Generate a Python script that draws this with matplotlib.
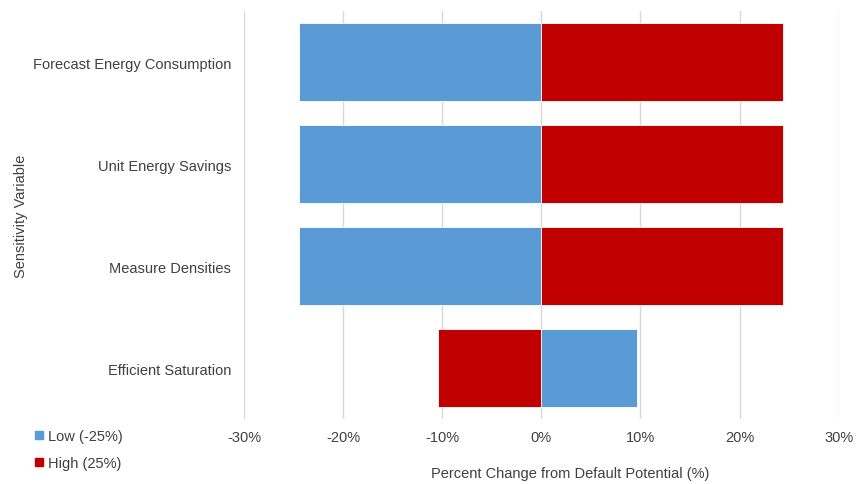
import numpy as np
import matplotlib
matplotlib.use("Agg")
import matplotlib.pyplot as plt
from matplotlib.lines import Line2D

plt.rcParams['font.family'] = ['Liberation Sans', 'DejaVu Sans']

# sensitivity variables, top to bottom
variables = ["Forecast Energy Consumption", "Unit Energy Savings",
             "Measure Densities", "Efficient Saturation"]
low_change = [-24.5, -24.5, -24.5, 9.6]     # Low (-25%)
high_change = [24.4, 24.4, 24.4, -10.4]     # High (25%)
xticks = [-30, -20, -10, 0, 10, 20, 30]

blue = "#5B9BD5"
red = "#C00000"
text_color = "#404040"

fig = plt.figure(figsize=(8.57, 4.85), dpi=100)
ax = fig.add_axes([0.2847, 0.134, 0.694, 0.841])

y = np.arange(len(variables))
ax.barh(y, low_change, height=0.76, color=blue, edgecolor="white", linewidth=0.6, zorder=2)
ax.barh(y, high_change, height=0.76, color=red, edgecolor="white", linewidth=0.6, zorder=2)

ax.set_xlim(-30, 30)
ax.set_ylim(3.5, -0.5)
ax.set_xticks(xticks)
ax.set_xticklabels([f"{v}%" for v in xticks])
ax.set_yticks(y)
ax.set_yticklabels(variables)
ax.tick_params(axis="both", length=0, labelsize=10.5, colors=text_color)
ax.tick_params(axis="y", pad=9.4)
ax.tick_params(axis="x", pad=8)
ax.grid(axis="x", color="#D9D9D9", linewidth=1, zorder=0)
for s in ax.spines.values():
    s.set_visible(False)

fig.text(0.025, 0.555, "Sensitivity Variable", rotation=90, ha="center", va="center",
         fontsize=10.5, color=text_color)
fig.text(0.665, 0.022, "Percent Change from Default Potential (%)", ha="center", va="center",
         fontsize=10.5, color=text_color)

handles = [Line2D([], [], marker="s", linestyle="", color=blue, markersize=6),
           Line2D([], [], marker="s", linestyle="", color=red, markersize=6)]
fig.legend(handles, ["Low (-25%)", "High (25%)"], loc="upper left",
           bbox_to_anchor=(0.03, 0.125), frameon=False, fontsize=10.5,
           handletextpad=0.1, labelspacing=0.85, labelcolor=text_color,
           handlelength=1.0, borderaxespad=0)

fig.savefig("out.png", dpi=100)
